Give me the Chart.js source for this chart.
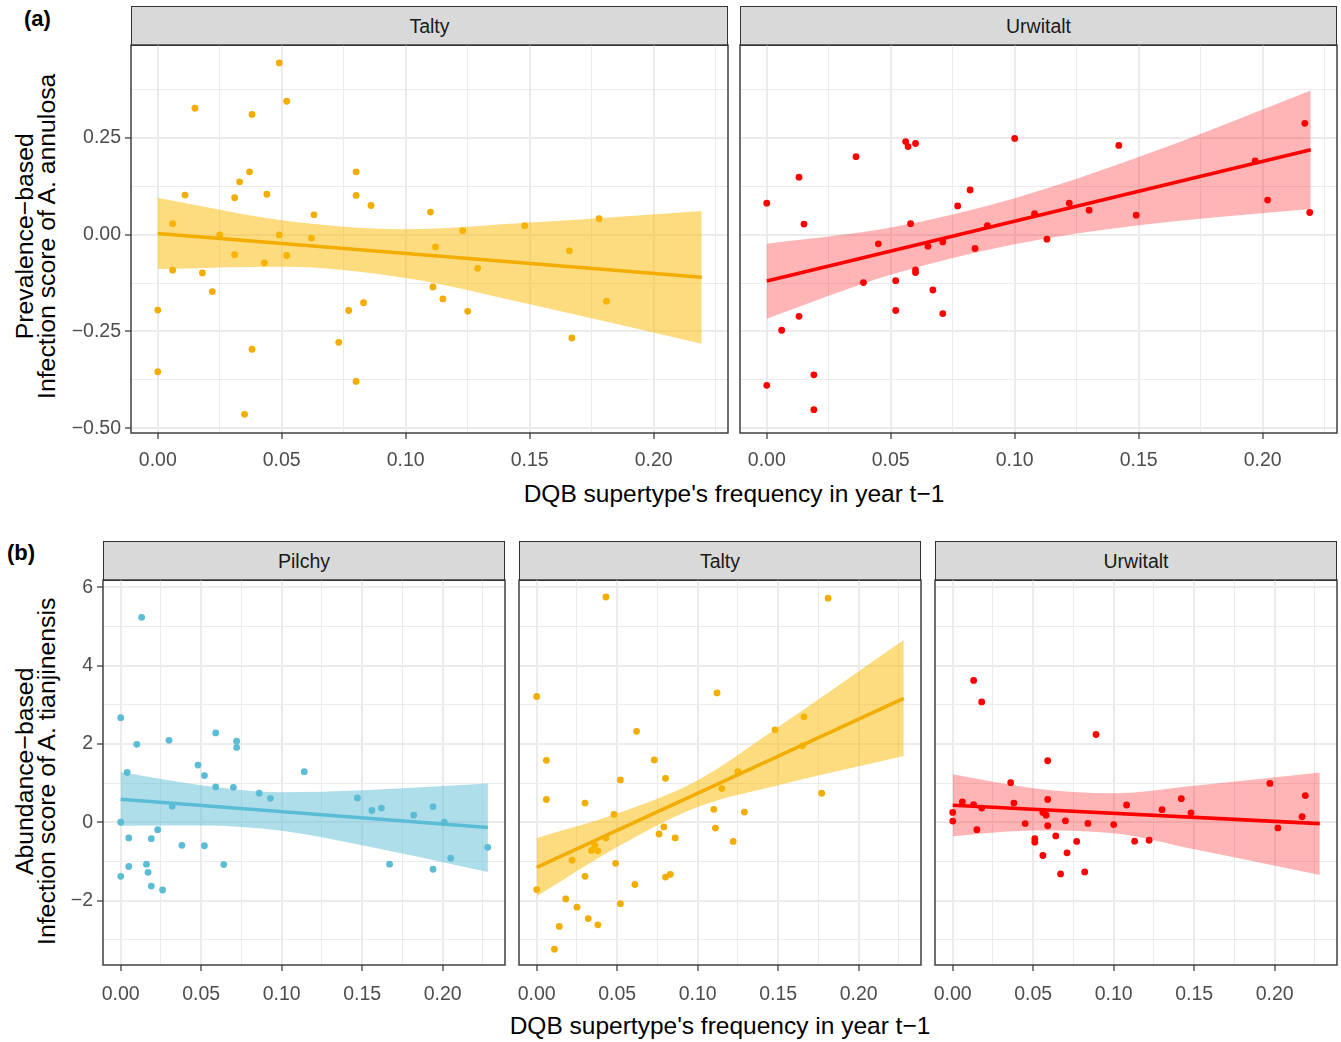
<!DOCTYPE html>
<html><head><meta charset="utf-8">
<script src="https://cdn.jsdelivr.net/npm/chart.js@4.4.1/dist/chart.umd.min.js"></script>
<style>
body{margin:0;background:#fff;width:1341px;height:1042px;position:relative;overflow:hidden;font-family:"Liberation Sans",Arial,Helvetica,sans-serif;}
.strip{position:absolute;background:#D9D9D9;border:1.3px solid #333333;box-sizing:border-box;display:flex;align-items:center;justify-content:center;font-size:19.5px;color:#1A1A1A;}
.xt{position:absolute;font-size:24.5px;line-height:1;white-space:nowrap;text-align:center;color:#000;width:800px;}
.yt{position:absolute;font-size:24.8px;line-height:0.9;text-align:center;color:#000;transform:rotate(-90deg);white-space:nowrap;width:600px;height:44.6px;}
.tag{position:absolute;font-weight:bold;font-size:22px;line-height:1;color:#000;}
canvas{position:absolute;}
</style></head><body>

<div class="tag" style="left:24px;top:8px;">(a)</div>
<div class="tag" style="left:7px;top:542px;">(b)</div>

<div class="strip" style="left:131px;top:6px;width:597px;height:40px;">Talty</div>
<div class="strip" style="left:740px;top:6px;width:597px;height:40px;">Urwitalt</div>
<div class="strip" style="left:103px;top:541px;width:402px;height:40px;">Pilchy</div>
<div class="strip" style="left:519px;top:541px;width:402px;height:40px;">Talty</div>
<div class="strip" style="left:935px;top:541px;width:402px;height:40px;">Urwitalt</div>

<div class="xt" style="left:334px;top:482px;">DQB supertype's frequency in year t−1</div>
<div class="xt" style="left:320px;top:1014px;">DQB supertype's frequency in year t−1</div>

<div class="yt" style="left:-264px;top:214px;">Prevalence−based<br>Infection score of A. annulosa</div>
<div class="yt" style="left:-264px;top:749px;">Abundance−based<br>Infection score of A. tianjinensis</div>

<script>
// ---------- tick labels ----------
const xTickVals = [0, 0.05, 0.10, 0.15, 0.20];
const xTickLabels = ['0.00', '0.05', '0.10', '0.15', '0.20'];
const xMinorVals = [0.025, 0.075, 0.125, 0.175, 0.225];
const aYTickVals = [-0.5, -0.25, 0, 0.25];
const aYTickLabels = ['−0.50', '−0.25', '0.00', '0.25'];
const aYMinorVals = [-0.375, -0.125, 0.125, 0.375];
const bYTickVals = [-2, 0, 2, 4, 6];
const bYTickLabels = ['−2', '0', '2', '4', '6'];
const bYMinorVals = [-3, -1, 1, 3, 5];

// ---------- (a) Talty ----------
const aTaltyX = [0.049,0.015,0.052,0.038,0.037,0.033,0.011,0.031,0.044,0.080,0.080,0.086,0.110,0.063,0.006,0.025,0.049,0.062,0.031,0.052,0.043,0.006,0.018,0.022,0.000,0.077,0.083,0.073,0.038,0.080,0.000,0.035,0.123,0.112,0.129,0.111,0.115,0.125,0.148,0.166,0.178,0.181,0.167];
const aTaltyY = [0.443,0.326,0.344,0.310,0.162,0.136,0.102,0.095,0.104,0.162,0.101,0.075,0.058,0.051,0.028,-0.001,-0.001,-0.009,-0.052,-0.054,-0.073,-0.092,-0.099,-0.147,-0.195,-0.196,-0.176,-0.278,-0.296,-0.379,-0.354,-0.464,0.010,-0.032,-0.087,-0.135,-0.166,-0.198,0.023,-0.042,0.041,-0.172,-0.267];
const aTaltyFitX = [0, 0.2194];
const aTaltyFitY = [0.0026, -0.110];
const aTaltyBandX = [0, 0.05, 0.10, 0.15, 0.2194];
const aTaltyBandHi = [0.095, 0.037, 0.014, 0.031, 0.061];
const aTaltyBandLo = [-0.089, -0.083, -0.112, -0.180, -0.282];

// ---------- (a) Urwitalt ----------
const aUrwitaltX = [0.000,0.013,0.015,0.036,0.056,0.057,0.060,0.100,0.082,0.077,0.058,0.045,0.065,0.071,0.089,0.084,0.060,0.060,0.039,0.052,0.067,0.052,0.071,0.013,0.006,0.019,0.000,0.019,0.108,0.122,0.130,0.113,0.142,0.149,0.197,0.202,0.217,0.219];
const aUrwitaltY = [0.081,0.148,0.027,0.201,0.240,0.227,0.235,0.248,0.115,0.074,0.028,-0.024,-0.030,-0.019,0.023,-0.036,-0.091,-0.098,-0.124,-0.119,-0.143,-0.196,-0.204,-0.211,-0.247,-0.362,-0.389,-0.452,0.054,0.081,0.063,-0.012,0.230,0.050,0.190,0.089,0.287,0.057];
const aUrwitaltFitX = [0, 0.2194];
const aUrwitaltFitY = [-0.120, 0.219];
const aUrwitaltBandX = [0, 0.05, 0.10, 0.15, 0.2194];
const aUrwitaltBandHi = [-0.024, 0.018, 0.094, 0.200, 0.372];
const aUrwitaltBandLo = [-0.217, -0.104, -0.025, 0.024, 0.066];

// ---------- (b) Pilchy ----------
const bPilchyX = [0.013,0.000,0.010,0.030,0.059,0.072,0.072,0.048,0.052,0.004,0.114,0.059,0.070,0.086,0.093,0.032,0.147,0.156,0.162,0.182,0.194,0.201,0.000,0.023,0.005,0.019,0.038,0.052,0.228,0.205,0.016,0.064,0.167,0.005,0.194,0.017,0.000,0.019,0.026];
const bPilchyY = [5.23,2.67,1.99,2.09,2.28,2.07,1.91,1.46,1.19,1.27,1.29,0.90,0.89,0.74,0.61,0.41,0.62,0.30,0.36,0.18,0.40,0.00,0.00,-0.19,-0.40,-0.42,-0.59,-0.60,-0.64,-0.92,-1.07,-1.08,-1.07,-1.13,-1.20,-1.28,-1.38,-1.63,-1.73];
const bPilchyFitX = [0, 0.2281];
const bPilchyFitY = [0.587, -0.135];
const bPilchyBandX = [0, 0.05, 0.10, 0.15, 0.2281];
const bPilchyBandHi = [1.28, 0.945, 0.766, 0.817, 0.99];
const bPilchyBandLo = [-0.09, -0.085, -0.22, -0.59, -1.27];

// ---------- (b) Talty ----------
const bTaltyX = [0.043,0.181,0.000,0.112,0.166,0.148,0.062,0.006,0.073,0.165,0.052,0.080,0.125,0.115,0.006,0.030,0.177,0.110,0.129,0.048,0.079,0.111,0.076,0.086,0.043,0.122,0.036,0.034,0.038,0.022,0.049,0.030,0.080,0.083,0.061,0.000,0.018,0.052,0.025,0.032,0.014,0.038,0.011];
const bTaltyY = [5.75,5.72,3.21,3.30,2.69,2.36,2.32,1.58,1.59,1.95,1.08,1.12,1.29,0.86,0.58,0.49,0.74,0.33,0.26,0.20,-0.12,-0.15,-0.30,-0.40,-0.40,-0.49,-0.59,-0.72,-0.73,-0.97,-1.05,-1.38,-1.40,-1.33,-1.59,-1.72,-1.96,-2.08,-2.17,-2.46,-2.66,-2.62,-3.24];
const bTaltyFitX = [0, 0.228];
const bTaltyFitY = [-1.15, 3.16];
const bTaltyBandX = [0, 0.05, 0.10, 0.15, 0.228];
const bTaltyBandHi = [-0.40, 0.22, 1.07, 2.43, 4.65];
const bTaltyBandLo = [-1.89, -0.63, 0.39, 0.945, 1.69];

// ---------- (b) Urwitalt ----------
const bUrwitaltX = [0.013,0.018,0.089,0.059,0.036,0.197,0.219,0.142,0.059,0.006,0.013,0.038,0.018,0.108,0.130,0.148,0.000,0.056,0.058,0.217,0.000,0.045,0.070,0.084,0.100,0.059,0.015,0.202,0.064,0.051,0.051,0.077,0.113,0.122,0.071,0.056,0.067,0.082];
const bUrwitaltY = [3.62,3.07,2.24,1.57,1.01,0.99,0.68,0.60,0.58,0.52,0.45,0.49,0.36,0.44,0.32,0.24,0.25,0.25,0.18,0.14,0.03,-0.035,0.035,-0.03,-0.06,-0.09,-0.19,-0.145,-0.35,-0.42,-0.51,-0.49,-0.485,-0.46,-0.78,-0.85,-1.32,-1.27];
const bUrwitaltFitX = [0, 0.228];
const bUrwitaltFitY = [0.434, -0.035];
const bUrwitaltBandX = [0, 0.05, 0.10, 0.15, 0.228];
const bUrwitaltBandHi = [1.226, 0.87, 0.74, 0.93, 1.27];
const bUrwitaltBandLo = [-0.358, -0.21, -0.28, -0.69, -1.345];

// ---------- colours ----------
const COL_TALTY = '#F2AD00', BAND_TALTY = 'rgba(252,186,0,0.5)';
const COL_URW = '#FF0000', BAND_URW = 'rgba(255,0,0,0.29)';
const COL_PIL = '#5BBCD6', BAND_PIL = 'rgba(91,188,214,0.49)';

const FONT = '"Liberation Sans", Arial, Helvetica, sans-serif';

const borderPlugin = {
  id: 'panelBorder',
  afterDatasetsDraw(chart) {
    const a = chart.chartArea, c = chart.ctx;
    c.save();
    c.strokeStyle = '#333333';
    c.lineWidth = 1.4;
    c.strokeRect(a.left, a.top, a.right - a.left, a.bottom - a.top);
    c.restore();
  }
};

function tickSetter(major, minor) {
  return scale => {
    scale.ticks = major.map(v => ({value: v, isMajor: true}))
      .concat(minor.map(v => ({value: v, isMajor: false})))
      .sort((p, q) => p.value - q.value);
  };
}
function labeler(vals, labels) {
  return v => {
    const j = vals.findIndex(t => Math.abs(t - v) < 1e-9);
    return j >= 0 ? labels[j] : '';
  };
}
const gridColor = () => '#EBEBEB';
const gridWidth = ctx => (ctx.tick && ctx.tick.isMajor) ? 2 : 1;
const tickColor = ctx => (ctx.tick && ctx.tick.isMajor) ? '#333333' : 'rgba(0,0,0,0)';

function pts(xs, ys) { return xs.map((x, i) => ({x: x, y: ys[i]})); }

function panel(o) {
  const PADL = 80, PADT = 5, PADR = 15, PADB = 60, XH = 50;
  const yw = o.showY ? 70 : 0;
  const cv = document.createElement('canvas');
  const cw = PADL + o.w + PADR, ch = PADT + o.h + PADB;
  cv.width = cw; cv.height = ch;
  cv.style.left = (o.left - PADL) + 'px';
  cv.style.top = (o.top - PADT) + 'px';
  cv.style.width = cw + 'px'; cv.style.height = ch + 'px';
  document.body.appendChild(cv);
  new Chart(cv, {
    type: 'line',
    data: {datasets: [
      {data: pts(o.fitX, o.fitY), borderColor: o.col, borderWidth: 3.6, pointRadius: 0, fill: false, order: 0, borderCapStyle: 'butt'},
      {data: pts(o.bandX, o.bandHi), borderWidth: 0, borderColor: 'rgba(0,0,0,0)', pointRadius: 0, fill: '+1', backgroundColor: o.band, cubicInterpolationMode: 'monotone', order: 1},
      {data: pts(o.bandX, o.bandLo), borderWidth: 0, borderColor: 'rgba(0,0,0,0)', pointRadius: 0, fill: false, cubicInterpolationMode: 'monotone', order: 2},
      {data: pts(o.px, o.py), showLine: false, pointRadius: 3.4, pointBackgroundColor: o.col, pointBorderWidth: 0, pointHoverRadius: 3.4, order: 3}
    ]},
    options: {
      responsive: false, animation: false, devicePixelRatio: 1,
      events: [],
      layout: {autoPadding: false, padding: {left: PADL - yw, top: PADT, right: PADR, bottom: PADB - XH}},
      plugins: {legend: {display: false}, tooltip: {enabled: false}},
      scales: {
        x: {
          type: 'linear', position: 'bottom', min: o.xMin, max: o.xMax,
          afterBuildTicks: tickSetter(xTickVals, xMinorVals),
          afterFit: s => { s.height = XH; s.paddingLeft = 0; s.paddingRight = 0; },
          border: {display: false},
          grid: {color: gridColor, lineWidth: gridWidth, tickColor: tickColor, tickLength: 6, tickWidth: 1.2, drawTicks: true},
          ticks: {callback: labeler(xTickVals, xTickLabels), autoSkip: false, maxRotation: 0, minRotation: 0, padding: o.xPad, color: '#4D4D4D', font: {family: FONT, size: 19.5}}
        },
        y: {
          type: 'linear', position: 'left', min: o.yMin, max: o.yMax,
          afterBuildTicks: tickSetter(o.yTicks, o.yMinor),
          afterFit: s => { s.width = yw; s.paddingTop = 0; s.paddingBottom = 0; },
          border: {display: false},
          grid: {color: gridColor, lineWidth: gridWidth, tickColor: tickColor, tickLength: 6, tickWidth: 1.2, drawTicks: o.showY},
          ticks: {display: o.showY, callback: labeler(o.yTicks, o.yLabels), autoSkip: false, padding: 4, color: '#4D4D4D', font: {family: FONT, size: 19.5}}
        }
      }
    },
    plugins: [borderPlugin]
  });
}

const topGeom = {top: 45, h: 388, w: 597, xPad: 10, xMin: -0.0108, xMax: 0.2300, yMin: -0.5121, yMax: 0.4892, yTicks: aYTickVals, yMinor: aYMinorVals, yLabels: aYTickLabels};
const botGeom = {top: 580, h: 385, w: 402, xPad: 12, xMin: -0.0110, xMax: 0.2387, yMin: -3.645, yMax: 6.184, yTicks: bYTickVals, yMinor: bYMinorVals, yLabels: bYTickLabels};

panel(Object.assign({}, topGeom, {left: 131, showY: true, col: COL_TALTY, band: BAND_TALTY,
  px: aTaltyX, py: aTaltyY, fitX: aTaltyFitX, fitY: aTaltyFitY, bandX: aTaltyBandX, bandHi: aTaltyBandHi, bandLo: aTaltyBandLo}));
panel(Object.assign({}, topGeom, {left: 740, showY: false, col: COL_URW, band: BAND_URW,
  px: aUrwitaltX, py: aUrwitaltY, fitX: aUrwitaltFitX, fitY: aUrwitaltFitY, bandX: aUrwitaltBandX, bandHi: aUrwitaltBandHi, bandLo: aUrwitaltBandLo}));
panel(Object.assign({}, botGeom, {left: 103, showY: true, col: COL_PIL, band: BAND_PIL,
  px: bPilchyX, py: bPilchyY, fitX: bPilchyFitX, fitY: bPilchyFitY, bandX: bPilchyBandX, bandHi: bPilchyBandHi, bandLo: bPilchyBandLo}));
panel(Object.assign({}, botGeom, {left: 519, showY: false, col: COL_TALTY, band: BAND_TALTY,
  px: bTaltyX, py: bTaltyY, fitX: bTaltyFitX, fitY: bTaltyFitY, bandX: bTaltyBandX, bandHi: bTaltyBandHi, bandLo: bTaltyBandLo}));
panel(Object.assign({}, botGeom, {left: 935, showY: false, col: COL_URW, band: BAND_URW,
  px: bUrwitaltX, py: bUrwitaltY, fitX: bUrwitaltFitX, fitY: bUrwitaltFitY, bandX: bUrwitaltBandX, bandHi: bUrwitaltBandHi, bandLo: bUrwitaltBandLo}));
</script>
</body></html>
